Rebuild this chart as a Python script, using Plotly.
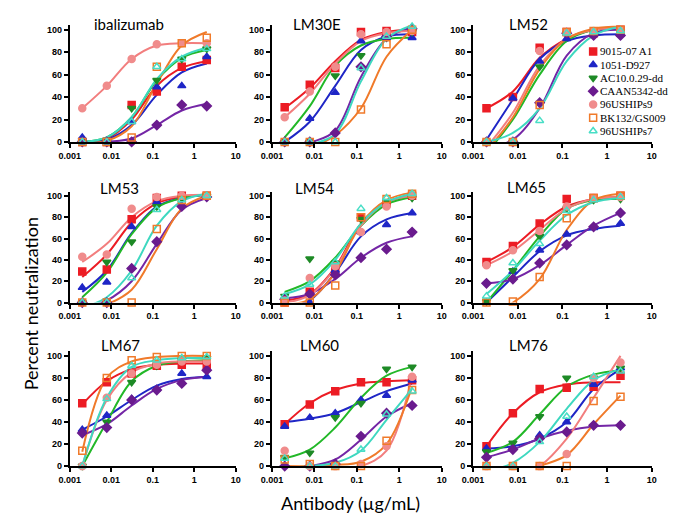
import plotly.graph_objects as go

# ---------------- data ----------------
DOSES = [0.002, 0.0078, 0.031, 0.125, 0.5, 2.0]
VIRUSES = ["9015-07 A1", "1051-D927", "AC10.0.29-dd", "CAAN5342-dd",
           "96USHIPs9", "BK132/GS009", "96USHIPs7"]
PANELS = ["ibalizumab", "LM30E", "LM52", "LM53", "LM54", "LM65", "LM67", "LM60", "LM76"]
X_TICKS = [0.001, 0.01, 0.1, 1, 10]
X_TICK_LABELS = ["0.001", "0.01", "0.1", "1", "10"]
Y_TICKS = [0, 20, 40, 60, 80, 100]

# measured points (rows follow VIRUSES order)
PTS_IBALIZUMAB = [[0, 0, 33, 45, 67, 73], [4, 0, 18, 49, 50, 76], [0, 0, 30, 55, 74, 83],
                  [0, 0, 0, 15, 33, 32], [30, 50, 74, 87, 88, 88], [0, 0, 4, 67, 88, 93],
                  [0, 0, 18, 67, 74, 83]]
PTS_LM30E = [[31, 51, 66, 98, 99, 98], [0, 21, 44, 90, 93, 93], [0, 0, 59, 77, 93, 98],
             [0, 0, 8, 67, 94, 101], [22, 45, 67, 96, 98, 99], [0, 0, 0, 29, 87, 100],
             [0, 0, 0, 66, 94, 103]]
PTS_LM52 = [[30, 40, 84, 98, 97, 100], [0, 39, 72, 92, 96, 96], [0, 0, 67, 97, 98, 99],
            [0, 0, 35, 97, 95, 95], [0, 0, 81, 98, 99, 100], [0, 0, 33, 98, 99, 100],
            [0, 0, 19, 97, 98, 99]]
PTS_LM53 = [[29, 31, 78, 98, 100, 100], [14, 19, 71, 94, 99, 100], [0, 38, 57, 90, 98, 100],
            [0, 0, 32, 57, 90, 99], [43, 45, 88, 99, 100, 100], [0, 0, 0, 69, 96, 100],
            [0, 0, 23, 87, 96, 100]]
PTS_LM54 = [[0, 10, 30, 80, 93, 100], [0, 0, 30, 66, 73, 84], [6, 41, 37, 78, 95, 98],
            [3, 8, 26, 42, 50, 66], [2, 23, 34, 66, 90, 100], [0, 0, 16, 80, 97, 102],
            [6, 17, 38, 88, 98, 102]]
PTS_LM65 = [[38, 53, 74, 97, 98, 100], [0, 29, 49, 64, 70, 74], [1, 30, 62, 88, 96, 97],
            [18, 22, 37, 54, 71, 84], [35, 49, 67, 90, 98, 99], [0, 1, 24, 79, 98, 100],
            [6, 37, 55, 86, 96, 99]]
PTS_LM67 = [[57, 76, 84, 91, 92, 92], [33, 46, 61, 70, 84, 81], [0, 40, 76, 91, 96, 98],
            [30, 35, 60, 69, 75, 87], [0, 62, 84, 92, 95, 95], [14, 80, 96, 99, 100, 100],
            [0, 61, 91, 96, 98, 99]]
PTS_LM60 = [[38, 56, 68, 76, 76, 78], [36, 44, 48, 60, 64, 78], [8, 12, 44, 57, 88, 90],
            [0, 0, 2, 27, 48, 55], [14, 0, 0, 2, 18, 81], [6, 2, 0, 0, 23, 69],
            [7, 0, 0, 15, 47, 68]]
PTS_LM76 = [[18, 48, 70, 71, 72, 82], [16, 17, 28, 40, 74, 89], [13, 21, 45, 80, 80, 89],
            [8, 15, 25, 31, 37, 37], [0, 0, 0, 11, 80, 94], [0, 0, 0, 0, 59, 63],
            [0, 0, 22, 45, 81, 86]]

# fitted curve values at each dose
FIT_IBALIZUMAB = [[0, 3, 20, 50, 66, 72], [0, 2, 15, 42, 62, 70], [0, 4, 22, 55, 75, 82],
                  [-2, 0, 3, 15, 28, 34], [30, 50, 74, 86, 88, 88], [-1, 1, 14, 52, 86, 98],
                  [0, 4, 22, 56, 76, 84]]
FIT_LM30E = [[30, 48, 72, 91, 98, 100], [0, 18, 50, 82, 94, 96], [4, 32, 68, 86, 92, 93],
             [-10, -1, 10, 58, 92, 102], [22, 43, 70, 90, 97, 99], [-15, -6, 6, 30, 76, 100],
             [-12, -3, 7, 54, 92, 104]]
FIT_LM52 = [[30, 45, 75, 92, 100, 102], [2, 38, 74, 90, 95, 96], [-10, 20, 60, 90, 100, 102],
            [-5, 2, 30, 77, 97, 100], [-5, 26, 68, 92, 100, 102], [-8, 22, 65, 92, 101, 103],
            [0, 8, 30, 72, 95, 103]]
FIT_LM53 = [[24, 45, 75, 93, 99, 101], [10, 30, 65, 90, 98, 101], [5, 28, 64, 89, 98, 101],
            [-5, 2, 20, 55, 87, 98], [38, 55, 80, 95, 100, 101], [-10, -2, 12, 50, 88, 100],
            [-5, 5, 30, 72, 95, 102]]
FIT_LM54 = [[2, 8, 33, 74, 94, 100], [-5, 2, 28, 62, 78, 84], [10, 20, 42, 72, 92, 99],
            [4, 8, 22, 42, 56, 62], [0, 7, 32, 72, 94, 100], [-2, 3, 28, 74, 96, 103],
            [8, 17, 40, 74, 94, 102]]
FIT_LM65 = [[38, 52, 73, 90, 97, 99], [0, 24, 48, 63, 69, 72], [0, 30, 62, 88, 96, 97],
            [18, 22, 35, 54, 72, 84], [35, 48, 68, 88, 97, 99], [-10, 0, 22, 68, 96, 102],
            [8, 30, 58, 82, 94, 98]]
FIT_LM67 = [[56, 77, 88, 92, 93, 93], [33, 45, 60, 73, 79, 81], [0, 40, 77, 91, 95, 96],
            [28, 38, 55, 70, 78, 81], [0, 60, 85, 93, 95, 95], [13, 80, 95, 99, 100, 100],
            [0, 62, 90, 96, 98, 98]]
FIT_LM60 = [[38, 57, 69, 75, 77, 78], [40, 43, 48, 58, 68, 75], [7, 15, 35, 62, 82, 90],
            [-2, 0, 6, 24, 45, 57], [-5, -5, -3, 0, 14, 82], [0, 0, 1, 4, 20, 72],
            [-2, 0, 3, 14, 42, 70]]
FIT_LM76 = [[18, 48, 67, 74, 76, 76], [16, 18, 25, 40, 70, 88], [12, 22, 47, 72, 83, 87],
            [8, 15, 25, 32, 36, 37], [-20, -10, 0, 25, 62, 100], [-20, -10, 0, 10, 38, 64],
            [-5, 3, 22, 52, 78, 88]]

PANEL_PTS = [PTS_IBALIZUMAB, PTS_LM30E, PTS_LM52, PTS_LM53, PTS_LM54, PTS_LM65,
             PTS_LM67, PTS_LM60, PTS_LM76]
PANEL_FIT = [FIT_IBALIZUMAB, FIT_LM30E, FIT_LM52, FIT_LM53, FIT_LM54, FIT_LM65,
             FIT_LM67, FIT_LM60, FIT_LM76]

# ---------------- styles ----------------
MARKER_COLORS = ["#EC1C24", "#1F26C6", "#1E8A26", "#6A1B8E", "#F08C8C", "#F07A2A", "#48DEC6"]
LINE_COLORS = ["#EC1C24", "#1F26C6", "#22B828", "#7426A6", "#F27E7E", "#F07A2A", "#3ED8C0"]
SYMBOLS = ["square", "triangle-up", "triangle-down", "diamond", "circle",
           "square-open", "triangle-up-open"]

W, H = 679, 516
COL_PX = [(52, 222), (259, 433), (465, 648)]
ROW_PX = [(16.5, 134.5), (184.7, 297), (346.5, 462.5)]
TITLE_POS = [(113, 15), (305, 15), (522, 15), (103, 181), (303, 181), (520, 180),
             (104, 340), (308, 340), (522, 340)]
LEGEND_BOX_PX = (582, 594, 36.3, 130.1)   # x0, x1, top, bottom

fig = go.Figure()
layout = {}
bold = lambda s: "<b>%s</b>" % s

for p, name in enumerate(PANELS):
    r, c = divmod(p, 3)
    i = p + 1
    xa = "x" if i == 1 else "x%d" % i
    ya = "y" if i == 1 else "y%d" % i
    x0, x1 = COL_PX[c]
    y0, y1 = ROW_PX[r]
    axis_common = dict(showline=True, linecolor="black", linewidth=2, ticks="outside",
                       ticklen=4, tickwidth=2, tickcolor="black", showgrid=False,
                       zeroline=False,
                       tickfont=dict(family="Liberation Sans, Arial", size=9, color="black"))
    layout["xaxis" if i == 1 else "xaxis%d" % i] = dict(
        axis_common, type="log", range=[-3, 1], domain=[x0 / W, x1 / W], anchor=ya,
        tickvals=X_TICKS, ticktext=[bold(t) for t in X_TICK_LABELS])
    layout["yaxis" if i == 1 else "yaxis%d" % i] = dict(
        axis_common, range=[0, 104], domain=[1 - y1 / H, 1 - y0 / H], anchor=xa,
        tickvals=Y_TICKS, ticktext=[bold(t) for t in Y_TICKS])

    for s in range(7):
        fig.add_trace(go.Scatter(
            x=DOSES, y=PANEL_FIT[p][s], mode="lines", xaxis=xa, yaxis=ya,
            line=dict(color=LINE_COLORS[s], width=2, shape="spline", smoothing=1.0),
            showlegend=False, hoverinfo="skip"))
    for s in range(7):
        fig.add_trace(go.Scatter(
            x=DOSES, y=PANEL_PTS[p][s], mode="markers", xaxis=xa, yaxis=ya,
            name=VIRUSES[s], showlegend=False, cliponaxis=False,
            marker=dict(symbol=SYMBOLS[s], size=7, color=MARKER_COLORS[s],
                        line=dict(color=MARKER_COLORS[s], width=1.5))))

# ---- manual legend on a hidden axis pair (one row per virus) ----
lx0, lx1, lt, lb = LEGEND_BOX_PX
layout["xaxis10"] = dict(domain=[lx0 / W, lx1 / W], range=[0, 1], visible=False,
                         anchor="y10", fixedrange=True)
layout["yaxis10"] = dict(domain=[1 - lb / H, 1 - lt / H], range=[len(VIRUSES) - 0.5, -0.5],
                         visible=False, anchor="x10", fixedrange=True)
legend_rows = list(range(len(VIRUSES)))
for s in legend_rows:
    fig.add_trace(go.Scatter(
        x=[0.5], y=[s], mode="markers", xaxis="x10", yaxis="y10", showlegend=False,
        cliponaxis=False, hoverinfo="skip",
        marker=dict(symbol=SYMBOLS[s], size=7, color=MARKER_COLORS[s],
                    line=dict(color=MARKER_COLORS[s], width=1.5))))

annotations = []
for s in legend_rows:
    annotations.append(dict(text=VIRUSES[s], x=1, y=s, xref="x10", yref="y10",
                            showarrow=False, xanchor="left", yanchor="middle", xshift=-1,
                            font=dict(family="Liberation Serif, Times New Roman, serif",
                                      size=11, color="black")))
for p, name in enumerate(PANELS):
    tx, ty = TITLE_POS[p]
    annotations.append(dict(text=name, x=tx / W, y=1 - ty / H, xref="paper", yref="paper",
                            showarrow=False, xanchor="center", yanchor="middle",
                            font=dict(family="Lato, Carlito, sans-serif", size=15, color="black")))
annotations.append(dict(text="Percent neutralization", x=12 / W, y=1 - 298 / H,
                        xref="paper", yref="paper", showarrow=False, textangle=-90,
                        xanchor="center", yanchor="middle",
                        font=dict(family="Lato, sans-serif", size=18, color="black")))
annotations.append(dict(text="Antibody (µg/mL)", x=340 / W, y=1 - 500 / H,
                        xref="paper", yref="paper", showarrow=False,
                        xanchor="center", yanchor="middle",
                        font=dict(family="Lato, sans-serif", size=18, color="black")))

fig.update_layout(
    width=W, height=H, margin=dict(l=0, r=0, t=0, b=0),
    paper_bgcolor="white", plot_bgcolor="white",
    annotations=annotations, showlegend=False,
    **layout)

fig.write_html("out.html")
